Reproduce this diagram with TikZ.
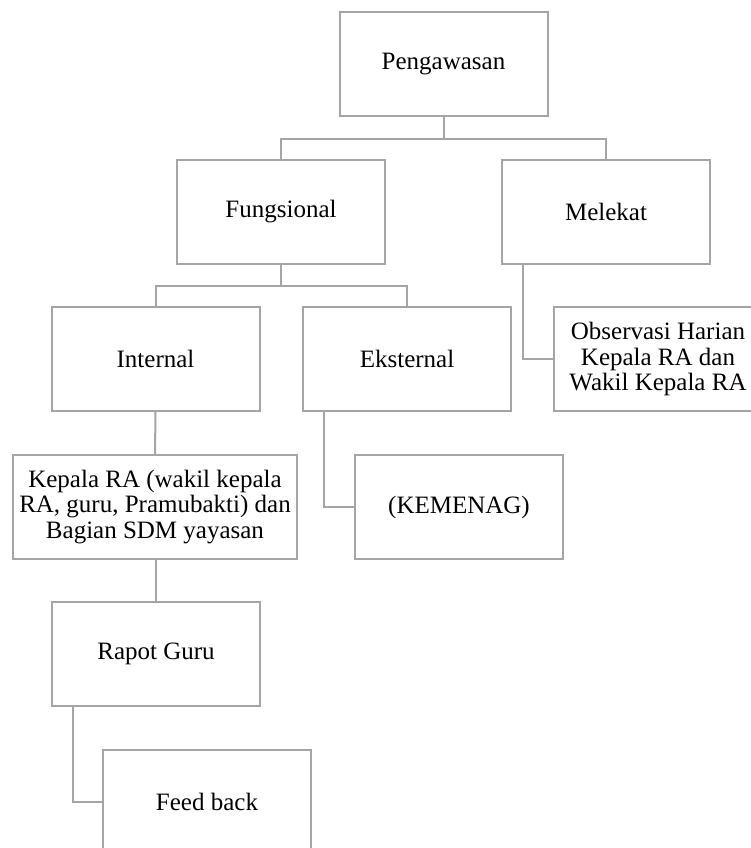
\documentclass[tikz,border=0pt]{standalone}
\usepackage{fontspec}
\setmainfont{Liberation Serif}
\definecolor{boxgray}{HTML}{A5A5A5}
\begin{document}
\begin{tikzpicture}[x=1pt,y=-1pt,
  box/.style={draw=boxgray, line width=2pt, rectangle, minimum width=208pt, minimum height=104pt,
    inner sep=0pt, align=center, font=\fontsize{25}{25.5}\selectfont, text=black},
  conn/.style={draw=boxgray, line width=2pt}]
\useasboundingbox (0,0) rectangle (751,848);
\fill[white] (0,0) rectangle (751,848);
\clip (0,0) rectangle (751,848);
\node[box] (P) at (443.5,64.5) {Pengawasan};
\node[box] (F) at (281,211.5) {Fungsional};
\node[box] (M) at (606,211.5) {Melekat};
\node[box] (I) at (155.5,359) {Internal};
\node[box] (E) at (407,359) {Eksternal};
\node[box] (O) at (658,359) {Observasi Harian\\Kepala RA dan\\Wakil Kepala RA};
\node[box, minimum width=284pt] (K) at (155,507) {Kepala RA (wakil kepala\\RA, guru, Pramubakti) dan\\Bagian SDM yayasan};
\node[box] (KM) at (459,507) {(KEMENAG)};
\node[box] (R) at (156,654) {Rapot Guru};
\node[box] (FB) at (207,802) {Feed back};
\coordinate (pbar) at ([yshift=-21pt]P.south);
\coordinate (fbar) at ([yshift=-21pt]F.south);
\draw[conn] (P.south) -- (pbar);
\draw[conn] (pbar) -| (F.north);
\draw[conn] (pbar) -| (M.north);
\draw[conn] (F.south) -- (fbar);
\draw[conn] (fbar) -| (I.north);
\draw[conn] (fbar) -| (E.north);
\draw[conn] ([xshift=-83pt]M.south) |- (O.west);
\draw[conn] (I.south) -- (K.north);
\draw[conn] ([xshift=-83pt]E.south) |- (KM.west);
\draw[conn] (K.south -| R.north) -- (R.north);
\draw[conn] ([xshift=-83pt]R.south) |- (FB.west);
\end{tikzpicture}
\end{document}
